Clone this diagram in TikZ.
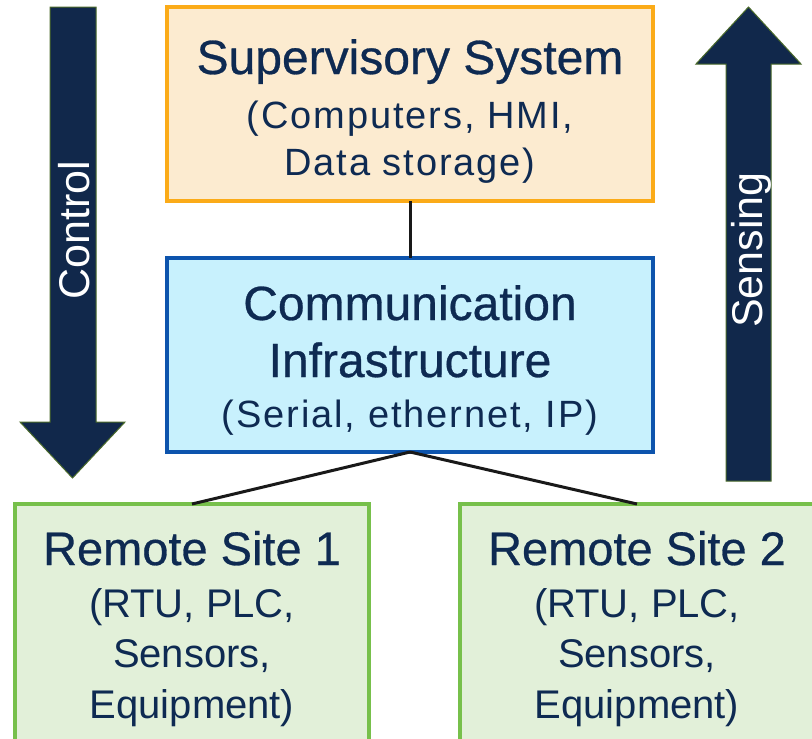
\documentclass[tikz,border=0pt]{standalone}
\usepackage{fontspec}
\setmainfont{Liberation Sans}
\newfontfamily\subfont[LetterSpace=5]{Liberation Sans}
\newfontfamily\headfont[FakeBold=0.6]{Liberation Sans}
\definecolor{ink}{HTML}{0E2A52}
\definecolor{navy}{HTML}{11284B}
\definecolor{olive}{HTML}{4A6A2A}
\definecolor{supfill}{HTML}{FCEBD0}
\definecolor{supline}{HTML}{FBAB18}
\definecolor{comfill}{HTML}{C8F1FD}
\definecolor{comline}{HTML}{0D54AD}
\definecolor{remfill}{HTML}{E2F0D9}
\definecolor{remline}{HTML}{77C04B}
\tikzset{
  box/.style={draw, line width=4pt, inner sep=0pt, outer sep=0pt},
  supbox/.style={box, draw=supline, fill=supfill, minimum width=486pt, minimum height=194pt},
  combox/.style={box, draw=comline, fill=comfill, minimum width=486pt, minimum height=194pt},
  rembox/.style={box, draw=remline, fill=remfill, minimum width=354pt, minimum height=241pt},
  ttl/.style={anchor=base, inner sep=0pt, text=ink, font=\headfont\fontsize{48}{50}\selectfont},
  sub/.style={anchor=base, inner sep=0pt, text=ink, font=\subfont\fontsize{38}{40}\selectfont},
  rttl/.style={anchor=base, inner sep=0pt, text=ink, font=\headfont\fontsize{47}{49}\selectfont},
  rsub/.style={anchor=base, inner sep=0pt, text=ink, font=\fontsize{40}{42}\selectfont},
  flow/.style={fill=navy, draw=olive, line width=1pt, line join=miter},
  flowtext/.style={anchor=base, inner sep=0pt, text=white, rotate=90, font=\fontsize{43}{45}\selectfont},
  conn/.style={draw=black!90, line width=3pt}
}
\begin{document}
\begin{tikzpicture}[x=1pt, y=-1pt]
  \clip (0,0) rectangle (812,739);
  \fill[white] (0,0) rectangle (812,739);

  % direction arrows
  \draw[flow] (50,7) -- (96,7) -- (96,422) -- (125,422) -- (72.5,478)
              -- (20,422) -- (50,422) -- cycle;
  \node[flowtext] (ctl) at (89,230) {Control};
  \draw[flow] (726,481) -- (771,481) -- (771,64) -- (801,64) -- (748.5,7)
              -- (696,64) -- (726,64) -- cycle;
  \node[flowtext] (sen) at (762,250) {Sensing};

  % boxes
  \node[supbox] (sup) at (410,104) {};
  \node[combox] (com) at (410,355) {};
  \node[rembox] (rs1) at (192,624.5) {};
  \node[rembox] (rs2) at (637,624.5) {};

  % connectors
  \draw[conn] (sup.south) -- (com.north);
  \draw[conn] (com.south) -- (rs1.north);
  \draw[conn] (com.south) -- (rs2.north);

  % supervisory system text
  \node[ttl] (sup-a) at (410,74) {Supervisory System};
  \node[sub] (sup-b) at (410,128) {(Computers, HMI,};
  \node[sub] (sup-c) at (410,175) {Data storage)};

  % communication text
  \node[ttl] (com-a) at (410,320) {Communication};
  \node[ttl] (com-b) at (410,377) {Infrastructure};
  \node[sub] (com-c) at (410,427) {(Serial, ethernet, IP)};

  % remote sites text
  \foreach \x/\n in {192/1, 637/2} {
    \node[rttl] (rs\n-a) at (\x,565) {Remote Site \n};
    \node[rsub] (rs\n-b) at (\x,617) {(RTU, PLC,};
    \node[rsub] (rs\n-c) at (\x,667) {Sensors,};
    \node[rsub] (rs\n-d) at (\x,718) {Equipment)};
  }
\end{tikzpicture}
\end{document}
